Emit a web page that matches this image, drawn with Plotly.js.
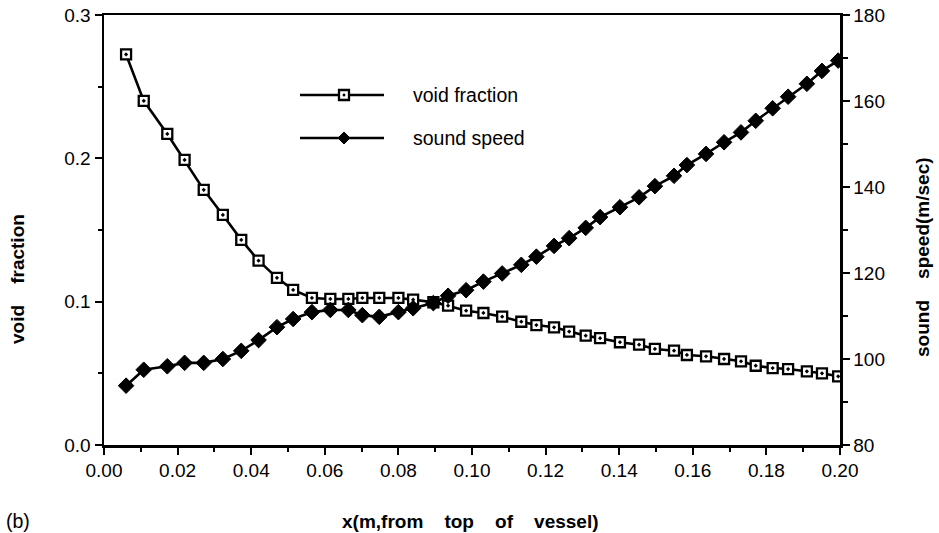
<!DOCTYPE html>
<html>
<head>
<meta charset="utf-8">
<script src="https://cdn.plot.ly/plotly-3.0.1.min.js"></script>
<style>
  html, body { margin: 0; padding: 0; background: #fff; }
  #chart { width: 939px; height: 533px; }
</style>
</head>
<body>
<div id="chart"></div>
<script>
// Distance from the top of the vessel (m)
const xPos = [0.0060, 0.0108, 0.0172, 0.0219, 0.0271, 0.0323, 0.0373, 0.0420, 0.0470, 0.0514,
              0.0565, 0.0615, 0.0664, 0.0702, 0.0748, 0.0800, 0.0840, 0.0895, 0.0935, 0.0984,
              0.1031, 0.1082, 0.1134, 0.1175, 0.1223, 0.1264, 0.1309, 0.1348, 0.1402, 0.1454,
              0.1497, 0.1549, 0.1584, 0.1636, 0.1685, 0.1731, 0.1771, 0.1817, 0.1859, 0.1910,
              0.1951, 0.1995];

// Void fraction (left axis)
const voidFraction = [0.2725, 0.2401, 0.2170, 0.1989, 0.1780, 0.1605, 0.1431, 0.1286, 0.1166, 0.1082,
                      0.1026, 0.1019, 0.1019, 0.1026, 0.1026, 0.1026, 0.1014, 0.0996, 0.0972, 0.0937,
                      0.0921, 0.0895, 0.0860, 0.0837, 0.0821, 0.0791, 0.0763, 0.0745, 0.0717, 0.0700,
                      0.0670, 0.0658, 0.0628, 0.0619, 0.0600, 0.0584, 0.0553, 0.0537, 0.0530, 0.0514,
                      0.0500, 0.0479];

// Sound speed in m/sec (right axis)
const soundSpeed = [93.8, 97.5, 98.3, 99.1, 99.1, 100.0, 101.9, 104.4, 107.4, 109.3,
                    110.9, 111.4, 111.4, 110.2, 109.8, 110.9, 111.8, 113.0, 114.7, 116.0,
                    118.0, 119.9, 121.9, 123.8, 126.3, 128.1, 130.5, 133.0, 135.3, 137.6,
                    140.2, 142.6, 145.1, 147.7, 150.4, 152.7, 155.4, 158.3, 161.0, 164.0,
                    167.0, 169.4];

const seriesNames = ['void fraction', 'sound speed'];
const GAP = '\u00a0\u00a0\u00a0\u00a0';
const xTitle = ['x(m,from', 'top', 'of', 'vessel)'].join(GAP);
const yTitle = ['void', 'fraction'].join(GAP);
const y2Title = ['sound', 'speed(m/sec)'].join(GAP);
const panelLabel = '(b)';

const FONT = 'Liberation Sans, Arial, Helvetica, sans-serif';
const INK = '#000';

const traces = [
  {
    x: xPos, y: voidFraction, name: seriesNames[0], yaxis: 'y',
    type: 'scatter', mode: 'lines+markers', showlegend: false,
    line: { color: INK, width: 2.6 },
    marker: { symbol: 'square-dot', size: 10, color: '#fff', line: { color: INK, width: 2.3 } }
  },
  {
    x: xPos, y: soundSpeed, name: seriesNames[1], yaxis: 'y2',
    type: 'scatter', mode: 'lines+markers', showlegend: false,
    line: { color: INK, width: 2.6 },
    marker: { symbol: 'diamond', size: 12, color: INK, line: { color: INK, width: 1 } }
  }
];

// Plot box in pixels (for placing the legend and titles)
const L = 104, R = 840, T = 15, B = 445;
const px = v => (v - L) / (R - L);
const py = v => (B - v) / (B - T);

const axisCommon = {
  showline: true, linecolor: INK, linewidth: 2.5,
  ticks: 'outside', ticklen: 7, tickwidth: 2, tickcolor: INK,
  showgrid: false, zeroline: false,
  tickfont: { family: FONT, size: 19, color: INK }
};

// Hand-drawn legend: a line with the series marker, then the label
const legRows = [
  { y: 95, label: seriesNames[0], kind: 'square' },
  { y: 138, label: seriesNames[1], kind: 'diamond' }
];
const shapes = [];
const annotations = [];
legRows.forEach(r => {
  shapes.push({ type: 'line', xref: 'paper', yref: 'paper',
    x0: px(300), x1: px(384), y0: py(r.y), y1: py(r.y),
    line: { color: INK, width: 2.6 } });
  if (r.kind === 'square') {
    shapes.push({ type: 'rect', xref: 'paper', yref: 'paper', xsizemode: 'pixel', ysizemode: 'pixel',
      xanchor: px(344), yanchor: py(r.y), x0: -5, x1: 5, y0: -5, y1: 5,
      fillcolor: '#fff', line: { color: INK, width: 2.3 } });
    shapes.push({ type: 'circle', xref: 'paper', yref: 'paper', xsizemode: 'pixel', ysizemode: 'pixel',
      xanchor: px(344), yanchor: py(r.y), x0: -1.2, x1: 1.2, y0: -1.2, y1: 1.2,
      fillcolor: INK, line: { color: INK, width: 0.5 } });
  } else {
    shapes.push({ type: 'path', xref: 'paper', yref: 'paper', xsizemode: 'pixel', ysizemode: 'pixel',
      xanchor: px(344), yanchor: py(r.y), path: 'M -6 0 L 0 6 L 6 0 L 0 -6 Z',
      fillcolor: INK, line: { color: INK, width: 1 } });
  }
  annotations.push({ xref: 'paper', yref: 'paper', x: px(411), y: py(r.y),
    xanchor: 'left', yanchor: 'middle', showarrow: false, text: r.label,
    font: { family: FONT, size: 19.5, color: INK } });
});

// Axis titles and panel label
annotations.push({ xref: 'paper', yref: 'paper', x: px(17), y: py(279), textangle: -90,
  xanchor: 'center', yanchor: 'middle', showarrow: false, text: '<b>' + yTitle + '</b>',
  font: { family: FONT, size: 19, color: INK } });
annotations.push({ xref: 'paper', yref: 'paper', x: px(922), y: py(257), textangle: -90,
  xanchor: 'center', yanchor: 'middle', showarrow: false, text: '<b>' + y2Title + '</b>',
  font: { family: FONT, size: 19, color: INK } });
annotations.push({ xref: 'paper', yref: 'paper', x: px(340), y: py(521),
  xanchor: 'left', yanchor: 'middle', showarrow: false, text: '<b>' + xTitle + '</b>',
  font: { family: FONT, size: 19, color: INK } });
annotations.push({ xref: 'paper', yref: 'paper', x: px(4), y: py(521),
  xanchor: 'left', yanchor: 'middle', showarrow: false, text: panelLabel,
  font: { family: FONT, size: 19.5, color: INK } });

const layout = {
  width: 939, height: 533,
  margin: { l: L, r: 939 - R, t: T, b: 533 - B, pad: 0 },
  paper_bgcolor: '#fff', plot_bgcolor: '#fff',
  showlegend: false,
  xaxis: Object.assign({}, axisCommon, {
    range: [0, 0.2], tick0: 0, dtick: 0.02, tickformat: '.2f', mirror: true,
    minor: { dtick: 0.01, ticks: 'outside', ticklen: 4, tickwidth: 2, tickcolor: INK }
  }),
  yaxis: Object.assign({}, axisCommon, {
    range: [0, 0.3], tick0: 0, dtick: 0.1, tickformat: '.1f',
    minor: { dtick: 0.05, ticks: 'outside', ticklen: 4, tickwidth: 2, tickcolor: INK }
  }),
  yaxis2: Object.assign({}, axisCommon, {
    range: [80, 180], tick0: 80, dtick: 20, overlaying: 'y', side: 'right',
    minor: { dtick: 10, ticks: 'outside', ticklen: 5, tickwidth: 2, tickcolor: INK }
  }),
  shapes: shapes,
  annotations: annotations
};

Plotly.newPlot('chart', traces, layout, { displayModeBar: false, staticPlot: true });
</script>
</body>
</html>
